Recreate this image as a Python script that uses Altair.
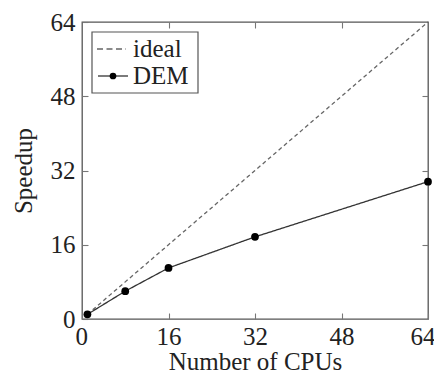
import altair as alt
import pandas as pd

cpus = [1, 8, 16, 32, 64]
ideal = [1, 8, 16, 32, 64]
dem = [1.0, 6.0, 11.0, 17.7, 29.6]
series_names = ["ideal", "DEM"]
tick_values = [0, 16, 32, 48, 64]
inner_ticks = [16, 32, 48]

lines = pd.DataFrame({
    "cpus": cpus + cpus,
    "speedup": ideal + dem,
    "series": [series_names[0]] * len(cpus) + [series_names[1]] * len(cpus),
})
points = pd.DataFrame({"cpus": cpus, "speedup": dem, "series": [series_names[1]] * len(cpus)})
ideal_label = pd.DataFrame({"label": [series_names[0]]})
dem_label = pd.DataFrame({"label": [series_names[1]]})

FONT = "Liberation Serif"
FS = 25
xscale = alt.Scale(domain=[0, 64], nice=False, zero=False)
yscale = alt.Scale(domain=[0, 64], nice=False, zero=False)

line_layer = alt.Chart(lines).mark_line(strokeWidth=1.3).encode(
    x=alt.X("cpus:Q", scale=xscale, axis=alt.Axis(orient="bottom", values=tick_values, title="Number of CPUs",
                                                  offset=-6, tickSize=6, labelPadding=5,
                                                  titleY=56.5, titleBaseline="alphabetic",
                                                  labelFlush=True, labelFlushOffset=7)),
    y=alt.Y("speedup:Q", scale=yscale, axis=alt.Axis(orient="left", values=tick_values, title="Speedup",
                                                     offset=-6, tickSize=6, labelPadding=7, titlePadding=14,
                                                     labelFlush=False)),
    color=alt.Color("series:N", scale=alt.Scale(domain=series_names, range=["#666", "#333"]), legend=None),
    strokeDash=alt.StrokeDash("series:N", scale=alt.Scale(domain=series_names, range=[[4, 3], [1, 0]]), legend=None),
)

point_layer = alt.Chart(points).mark_circle(size=60, color="#000", opacity=1).encode(
    x=alt.X("cpus:Q", scale=xscale, axis=alt.Axis(orient="top", values=inner_ticks, labels=False, title=None,
                                                  offset=-6, tickSize=6)),
    y=alt.Y("speedup:Q", scale=yscale, axis=alt.Axis(orient="right", values=inner_ticks, labels=False, title=None,
                                                     offset=-6, tickSize=6)),
)

# legend drawn as a small box inside the plot (top-left), like the original
legend_box = alt.Chart(ideal_label).mark_rect(fill="white", stroke="#555", strokeWidth=1.2).encode(
    x=alt.value(10), x2=alt.value(116), y=alt.value(10), y2=alt.value(71)
)
ideal_sym = alt.Chart(ideal_label).mark_rule(color="#666", strokeWidth=1.3, strokeDash=[6, 3.5]).encode(
    x=alt.value(15), x2=alt.value(44), y=alt.value(27)
)
dem_sym = alt.Chart(dem_label).mark_rule(color="#333", strokeWidth=1.3).encode(
    x=alt.value(16), x2=alt.value(46), y=alt.value(54)
)
dem_dot = alt.Chart(dem_label).mark_circle(size=45, color="#000", opacity=1).encode(
    x=alt.value(31), y=alt.value(54)
)
ideal_text = alt.Chart(ideal_label).mark_text(font=FONT, fontSize=FS, color="#222", align="left",
                                              baseline="middle").encode(
    text="label:N", x=alt.value(51), y=alt.value(26.5)
)
dem_text = alt.Chart(dem_label).mark_text(font=FONT, fontSize=FS, color="#222", align="left",
                                          baseline="middle").encode(
    text="label:N", x=alt.value(51), y=alt.value(54)
)

chart = alt.layer(
    line_layer, point_layer, legend_box, ideal_sym, dem_sym, dem_dot, ideal_text, dem_text
).resolve_axis(x="independent", y="independent").properties(
    width=346,
    height=297,
    autosize=alt.AutoSizeParams(type="none"),
    padding={"left": 74, "top": 14, "right": 6, "bottom": 53},
).configure_view(
    stroke="#555", strokeWidth=1.3
).configure_axis(
    labelFont=FONT, labelFontSize=FS, labelColor="#222",
    titleFont=FONT, titleFontSize=FS, titleFontWeight="normal", titleColor="#222",
    tickColor="#777", tickWidth=1.1, grid=False, domain=False,
)

chart.save("out.html", embed_options={"renderer": "svg", "actions": False})
